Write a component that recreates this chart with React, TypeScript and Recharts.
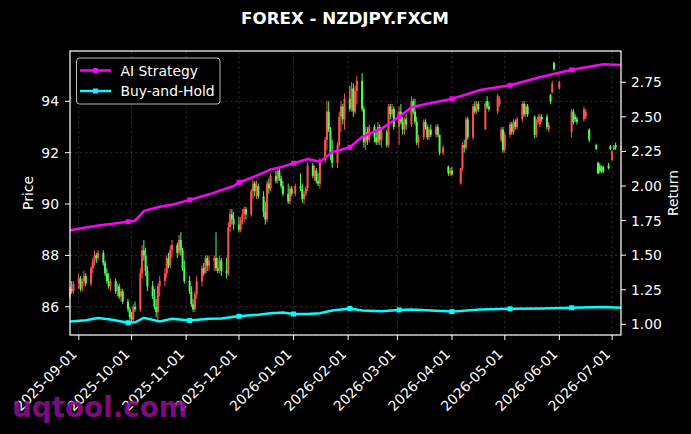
import React from "react";
import { ComposedChart, Bar, Line, XAxis, YAxis, CartesianGrid } from "recharts";

const W = 691;
const H = 434;
const FONT = '"DejaVu Sans", Verdana, sans-serif';
const UP = "#ff5050";
const DOWN = "#50ff50";
const AI_COLOR = "#ff00ff";
const BH_COLOR = "#00ffff";

// first weekday of the series; candles below follow weekday by weekday
const firstTradingDay = "2025-08-27";

// [open, high, low, close], null = no quote that day
const candles: ([number, number, number, number] | null)[] = [
  [86.4, 86.8, 86.3, 86.7], [86.7, 87.0, 86.5, 86.6], [86.6, 87.0, 86.5, 86.9],
  [86.9, 87.3, 86.7, 87.1], [87.1, 87.2, 86.6, 86.7], [86.7, 87.1, 86.6, 87.0], [87.0, 87.4, 86.8, 87.2], [87.2, 87.3, 86.8, 86.9],
  [86.9, 87.6, 86.8, 87.5], [87.5, 87.9, 87.3, 87.8], [87.8, 88.2, 87.6, 88.0], [88.0, 88.1, 87.7, 87.9], [87.9, 88.2, 87.8, 88.1],
  [88.1, 88.2, 87.6, 87.7], [87.7, 87.8, 87.2, 87.3], [87.3, 87.5, 86.9, 87.0], [87.0, 87.3, 86.7, 86.8], [86.8, 87.1, 86.6, 87.0],
  [87.0, 87.1, 86.5, 86.6], [86.6, 86.9, 86.4, 86.8], [86.8, 86.9, 86.3, 86.4], [86.4, 86.7, 86.2, 86.6], [86.6, 86.7, 86.1, 86.2],
  [86.2, 86.3, 85.8, 85.9], [85.9, 86.0, 85.5, 85.6], [85.6, 85.8, 85.4, 85.5], [85.5, 86.1, 85.4, 86.0], [86.0, 86.2, 85.8, 85.9],
  [85.9, 87.5, 85.8, 87.3], [87.3, 88.4, 87.1, 88.2], [88.2, 88.6, 87.8, 88.0], [88.0, 88.3, 87.2, 87.4], [87.4, 87.6, 86.6, 86.8],
  [86.8, 87.0, 86.3, 86.4], [86.4, 86.7, 85.9, 86.0], [86.0, 86.3, 85.6, 85.8], [85.8, 86.9, 85.5, 86.8], [86.8, 87.2, 86.4, 87.0],
  [87.0, 87.5, 86.8, 87.3], [87.3, 88.0, 87.1, 87.9], [87.9, 88.1, 87.5, 87.6], [87.6, 88.4, 87.5, 88.2], [88.2, 88.6, 87.9, 88.4],
  [88.4, 88.5, 87.9, 88.1], [88.1, 88.8, 88.0, 88.6], [88.6, 88.9, 88.0, 88.2], [88.2, 88.3, 87.4, 87.5], [87.5, 87.8, 86.9, 87.0],
  [87.0, 87.2, 86.5, 86.6], [86.6, 86.8, 86.0, 86.1], [86.1, 86.3, 85.8, 85.9], [85.9, 86.6, 85.8, 86.5], [86.5, 87.2, 86.3, 87.0],
  [87.0, 87.6, 86.8, 87.5], [87.5, 87.7, 87.2, 87.3], [87.3, 88.0, 87.3, 87.9], [87.9, 88.0, 87.4, 87.6], [87.6, 88.0, 87.4, 87.8],
  [87.8, 88.0, 87.4, 87.9], [87.9, 88.9, 87.4, 87.5], [87.5, 87.9, 87.3, 87.4], [87.4, 88.0, 87.3, 87.8], [87.8, 87.9, 87.2, 87.4],
  [87.4, 87.9, 87.1, 87.3], [87.3, 89.3, 87.2, 89.1], [89.1, 89.8, 88.9, 89.6], [89.6, 89.8, 89.2, 89.4], [89.4, 89.7, 89.0, 89.2],
  [89.2, 89.5, 88.9, 89.0], [89.0, 89.5, 88.9, 89.4], [89.4, 89.8, 89.2, 89.6], [89.6, 89.9, 89.3, 89.8], [89.8, 89.9, 89.4, 89.6],
  [89.6, 90.6, 89.5, 90.5], [90.5, 90.95, 90.2, 90.8], [90.8, 90.9, 90.3, 90.5], [90.5, 90.9, 90.2, 90.7], [90.7, 90.8, 90.2, 90.3],
  [90.3, 90.5, 89.5, 89.7], [89.7, 90.1, 89.2, 89.4], [89.4, 90.9, 89.3, 90.8], [90.8, 91.0, 90.4, 90.6], [90.6, 91.2, 90.5, 91.1],
  [91.1, 91.3, 90.8, 90.9], [90.9, 91.4, 90.8, 91.3], [91.3, 91.4, 90.9, 91.0], [91.0, 91.1, 90.6, 90.7], [90.7, 90.9, 90.3, 90.4],
  [90.4, 90.8, 90.0, 90.1], [90.1, 90.7, 90.0, 90.6], [90.6, 90.7, 90.3, 90.4], null, [90.4, 90.8, 90.3, 90.7],
  [90.7, 91.2, 90.5, 90.6], [90.6, 90.8, 90.05, 90.2], [90.2, 90.5, 90.0, 90.4], [90.4, 90.7, 90.3, 90.6], [90.6, 91.6, 90.5, 91.5],
  [91.5, 91.6, 91.0, 91.1], [91.1, 91.5, 90.9, 91.3], [91.3, 91.4, 90.8, 90.9], [90.9, 91.2, 90.7, 90.8], [90.8, 91.8, 90.6, 91.7],
  [91.7, 92.6, 91.6, 92.5], [92.5, 94.0, 92.1, 93.6], [93.6, 94.0, 92.8, 92.9], [92.9, 93.0, 91.7, 92.0], [92.0, 92.5, 91.4, 91.6],
  [91.6, 92.4, 91.4, 92.3], [92.3, 93.6, 92.2, 93.4], [93.4, 94.0, 92.8, 93.8], [93.8, 93.9, 93.1, 93.3], [93.3, 94.3, 92.9, 94.1],
  [94.1, 94.6, 93.6, 93.7], [93.7, 94.75, 93.6, 94.5], [94.5, 94.7, 93.4, 93.6], [93.6, 94.6, 93.5, 94.4], [94.4, 95.0, 93.9, 94.8],
  [94.8, 95.1, 93.6, 93.7], [93.7, 93.8, 92.2, 92.4], [92.4, 93.0, 92.1, 92.8], [92.8, 93.0, 92.3, 92.5], [92.5, 93.1, 92.4, 93.0],
  [93.0, 93.1, 92.4, 92.6], [92.6, 92.9, 92.3, 92.4], [92.4, 93.2, 92.3, 93.0], [93.0, 93.1, 92.3, 92.5], [92.5, 92.9, 92.2, 92.8],
  [92.8, 92.9, 92.2, 92.3], [92.3, 93.9, 92.2, 93.8], [93.8, 93.9, 93.3, 93.5], [93.5, 93.9, 93.4, 93.7], [93.7, 93.8, 92.9, 93.0],
  [93.0, 93.8, 92.3, 93.6], [93.6, 93.9, 93.1, 93.2], [93.2, 93.4, 92.7, 92.9], [92.9, 93.4, 92.7, 93.3], [93.3, 93.5, 92.9, 93.1],
  [93.1, 94.2, 93.0, 94.0], [94.0, 94.1, 93.5, 93.6], [93.6, 94.1, 93.1, 93.2], [93.2, 93.4, 92.3, 92.4], [92.4, 92.7, 92.2, 92.6],
  [92.6, 93.3, 92.5, 93.2], [93.2, 93.3, 92.9, 93.0], [93.0, 93.1, 92.5, 92.6], [92.6, 93.0, 92.5, 92.9], [92.9, 93.1, 92.6, 92.7],
  [92.7, 93.1, 92.6, 93.0], [93.0, 93.1, 92.6, 92.7], [92.7, 92.7, 91.9, 92.0], null, [92.0, 92.3, 91.9, 92.2],
  [91.45, 91.5, 91.1, 91.2], [91.2, 91.4, 91.1, 91.3], [91.3, 91.45, 91.1, 91.15], null, null,
  [90.8, 91.4, 90.75, 91.4], [91.4, 92.4, 91.3, 92.3], [92.3, 92.5, 92.0, 92.2], [92.2, 93.4, 92.1, 93.3], [93.3, 93.4, 92.5, 92.6],
  [92.6, 93.9, 92.5, 93.8], [93.8, 94.0, 93.5, 93.6], [93.6, 94.0, 93.5, 93.9], [93.9, 94.0, 93.6, 93.7], null,
  [92.9, 94.0, 92.9, 93.9], [94.0, 94.2, 93.7, 93.8], [93.8, 94.0, 93.6, 93.7], null, null,
  [93.6, 94.3, 93.5, 94.2], [93.9, 94.2, 93.8, 94.1], [92.5, 93.0, 92.4, 92.9], [92.9, 93.0, 92.0, 92.1], [92.1, 92.8, 92.0, 92.7],
  [92.7, 93.2, 92.6, 93.1], [93.1, 93.2, 92.7, 92.8], [92.8, 93.3, 92.7, 93.2], [93.2, 93.3, 92.9, 93.0], [93.0, 93.4, 92.9, 93.3],
  [93.3, 94.0, 93.2, 93.9], [93.9, 94.0, 93.4, 93.5], [93.5, 93.9, 93.4, 93.8], [93.8, 93.9, 93.4, 93.5], null,
  [93.4, 93.45, 92.55, 92.7], [92.7, 93.3, 92.6, 93.2], [93.2, 93.5, 93.1, 93.4], [93.1, 93.5, 93.0, 93.4], [93.4, 93.5, 93.2, 93.3],
  [93.4, 93.5, 92.9, 93.0], [92.9, 93.2, 92.8, 93.1], [94.25, 94.3, 93.9, 94.0], [94.35, 94.8, 94.3, 94.7], [95.5, 95.55, 95.2, 95.25],
  [94.5, 94.8, 94.45, 94.75], null, null, null, null,
  [92.8, 93.7, 92.6, 93.6], [93.6, 93.7, 93.1, 93.2], [93.4, 93.5, 93.2, 93.3], [93.3, 93.4, 93.1, 93.2], null,
  [93.3, 93.8, 93.2, 93.7], [93.4, 93.7, 93.3, 93.6], null, [92.9, 92.95, 92.4, 92.5], null,
  [92.3, 92.35, 92.1, 92.15], [91.6, 91.65, 91.15, 91.2], [91.5, 91.6, 91.2, 91.3], [91.4, 91.5, 91.2, 91.25], [91.45, 91.5, 91.2, 91.3],
  [91.5, 91.6, 91.35, 91.4], [92.25, 92.3, 92.1, 92.15], [91.7, 92.1, 91.7, 92.05], [92.2, 92.3, 92.1, 92.15], [92.3, 92.4, 92.1, 92.2],
  [92.2, 92.3, 92.1, 92.25],
];

const lineDates = [
  "2025-08-27", "2025-09-05", "2025-09-12", "2025-09-19", "2025-09-29", "2025-10-03", "2025-10-08",
  "2025-10-17", "2025-10-24", "2025-11-03", "2025-11-14", "2025-11-21", "2025-11-28", "2025-12-01",
  "2025-12-12", "2025-12-19", "2025-12-26", "2026-01-01", "2026-01-09", "2026-01-16", "2026-01-23",
  "2026-02-02", "2026-02-09", "2026-02-20", "2026-03-02", "2026-03-09", "2026-03-20", "2026-04-01",
  "2026-04-17", "2026-05-04", "2026-05-22", "2026-06-08", "2026-06-26", "2026-07-06",
];
const strategyReturns = [
  1.68, 1.7, 1.715, 1.725, 1.742, 1.75, 1.82, 1.85, 1.865, 1.9, 1.94, 1.97, 2.0, 2.025,
  2.08, 2.12, 2.14, 2.165, 2.195, 2.176, 2.245, 2.28, 2.355, 2.415, 2.5, 2.57, 2.6, 2.63,
  2.694, 2.728, 2.79, 2.84, 2.88, 2.875,
];
const buyHoldReturns = [
  1.02, 1.03, 1.045, 1.035, 1.012, 1.015, 1.048, 1.02, 1.04, 1.028, 1.04, 1.042, 1.055, 1.058,
  1.07, 1.08, 1.085, 1.075, 1.075, 1.08, 1.1, 1.115, 1.1, 1.095, 1.104, 1.108, 1.1, 1.092,
  1.108, 1.112, 1.115, 1.12, 1.125, 1.12,
];
const markerDates = [
  "2025-09-29", "2025-11-03", "2025-12-01", "2026-01-01", "2026-02-02",
  "2026-03-02", "2026-04-01", "2026-05-04", "2026-06-08",
];

const tickDates = [
  "2025-09-01", "2025-10-01", "2025-11-01", "2025-12-01", "2026-01-01", "2026-02-01",
  "2026-03-01", "2026-04-01", "2026-05-01", "2026-06-01", "2026-07-01",
];
const priceTicks = [86, 88, 90, 92, 94];
const returnTicks = [1.0, 1.25, 1.5, 1.75, 2.0, 2.25, 2.5, 2.75];

const ORIGIN = Date.UTC(2025, 8, 1);
const DAY = 86400000;
const toDay = (s: string) => {
  const [y, m, d] = s.split("-").map(Number);
  return (Date.UTC(y, m - 1, d) - ORIGIN) / DAY;
};
const fromDay = (n: number) => new Date(ORIGIN + n * DAY).toISOString().slice(0, 10);

const rows = new Map<number, any>();
const rowAt = (d: number) => {
  if (!rows.has(d)) rows.set(d, { d });
  return rows.get(d);
};
let cursor = toDay(firstTradingDay);
candles.forEach((c) => {
  while ([0, 6].includes(new Date(ORIGIN + cursor * DAY).getUTCDay())) cursor++;
  if (c) {
    const [o, h, l, cl] = c;
    Object.assign(rowAt(cursor), { o, h, l, c: cl, range: [l, h] });
  }
  cursor++;
});
lineDates.forEach((s, i) => {
  const r = rowAt(toDay(s));
  r.ai = strategyReturns[i];
  r.bh = buyHoldReturns[i];
  r.mark = markerDates.includes(s);
});
const data = [...rows.values()].sort((a, b) => a.d - b.d);
const tickDays = tickDates.map(toDay);

function Candle(props: any) {
  const { x, y, width, height, payload } = props;
  if (!payload || payload.o == null || x == null) return <g />;
  const top = Math.min(y, y + height);
  const span = Math.abs(height);
  const { o, c, h, l } = payload;
  const k = h > l ? span / (h - l) : 0;
  const cx = x + width / 2;
  const color = c >= o ? UP : DOWN;
  const bodyTop = top + (h - Math.max(o, c)) * k;
  const bodyH = Math.max(1, Math.abs(c - o) * k);
  return (
    <g>
      <line x1={cx} x2={cx} y1={top} y2={top + span} stroke={color} strokeWidth={1} />
      <rect x={cx - 1} y={bodyTop} width={2} height={bodyH} fill={color} />
    </g>
  );
}

const markerDot = (color: string) => (props: any) => {
  const { cx, cy, payload, index } = props;
  if (!payload || !payload.mark || cx == null || cy == null) return <g key={`n${index}`} />;
  return <rect key={`m${index}`} x={cx - 2.5} y={cy - 2.5} width={5} height={5} fill={color} />;
};

function DateTick(props: any) {
  const { x, y, payload } = props;
  return (
    <text
      transform={`translate(${x - 1},${y + 15}) rotate(-45)`}
      textAnchor="end"
      fill="#fff"
      fontSize={13.9}
      fontFamily={FONT}
    >
      {fromDay(payload.value)}
    </text>
  );
}

const tickStyle = { fill: "#fff", fontSize: 13.9, fontFamily: FONT };

export default function App() {
  return (
    <div style={{ position: "absolute", left: 0, top: 0, width: W, height: H, background: "#000", overflow: "hidden" }}>
      <ComposedChart width={W} height={H} data={data} margin={{ top: 51, right: 0, bottom: 0, left: 0 }}>
        <CartesianGrid yAxisId="price" stroke="#888" strokeOpacity={0.45} strokeWidth={0.7} strokeDasharray="2.5 2.5" />
        <XAxis
          dataKey="d"
          type="number"
          domain={["dataMin", "dataMax"]}
          ticks={tickDays}
          interval={0}
          height={99}
          axisLine={false}
          tickLine={{ stroke: "#fff" }}
          tickSize={5}
          tickMargin={0}
          tick={<DateTick />}
        />
        <YAxis
          yAxisId="price"
          orientation="left"
          width={70}
          domain={[84.9, 95.96]}
          ticks={priceTicks}
          allowDataOverflow
          axisLine={false}
          tickLine={{ stroke: "#fff" }}
          tickSize={5}
          tickMargin={6}
          tick={tickStyle}
        />
        <YAxis
          yAxisId="ret"
          orientation="right"
          width={70}
          domain={[0.923, 2.976]}
          ticks={returnTicks}
          allowDataOverflow
          axisLine={false}
          tickLine={{ stroke: "#fff" }}
          tickSize={5}
          tickMargin={5}
          tick={tickStyle}
          tickFormatter={(v: number) => v.toFixed(2)}
        />
        <Bar yAxisId="price" dataKey="range" barSize={2} shape={<Candle />} isAnimationActive={false} />
        <Line
          yAxisId="ret"
          dataKey="bh"
          stroke={BH_COLOR}
          strokeWidth={2.5}
          connectNulls
          dot={markerDot(BH_COLOR)}
          activeDot={false}
          isAnimationActive={false}
        />
        <Line
          yAxisId="ret"
          dataKey="ai"
          stroke={AI_COLOR}
          strokeWidth={2.5}
          connectNulls
          dot={markerDot(AI_COLOR)}
          activeDot={false}
          isAnimationActive={false}
        />
      </ComposedChart>
      <svg width={W} height={H} style={{ position: "absolute", left: 0, top: 0, pointerEvents: "none" }} fontFamily={FONT}>
        <rect x={70} y={51} width={551} height={284} fill="none" stroke="#fff" strokeWidth={1.2} />
        <text x={345} y={24} textAnchor="middle" fill="#fff" fontSize={16.7} fontWeight="bold">
          FOREX - NZDJPY.FXCM
        </text>
        <text transform="translate(32.5,193) rotate(-90)" textAnchor="middle" fill="#fff" fontSize={13.9}>
          Price
        </text>
        <text transform="translate(678,193) rotate(-90)" textAnchor="middle" fill="#fff" fontSize={13.9}>
          Return
        </text>
        <g>
          <rect x={76.5} y={58} width={143.5} height={46} rx={3} fill="#000" fillOpacity={0.8} stroke="#bbb" strokeWidth={1} />
          <line x1={80} x2={111} y1={70.5} y2={70.5} stroke={AI_COLOR} strokeWidth={2.5} />
          <rect x={93} y={68} width={5} height={5} fill={AI_COLOR} />
          <text x={120.5} y={75.5} fill="#fff" fontSize={13.9}>AI Strategy</text>
          <line x1={80} x2={111} y1={91} y2={91} stroke={BH_COLOR} strokeWidth={2.5} />
          <rect x={93} y={88.5} width={5} height={5} fill={BH_COLOR} />
          <text x={120.5} y={96} fill="#fff" fontSize={13.9}>Buy-and-Hold</text>
        </g>
        <text x={12} y={417} fill="#8e0e8e" fillOpacity={0.9} fontSize={27.8} fontWeight="bold">
          uqtool.com
        </text>
      </svg>
    </div>
  );
}
